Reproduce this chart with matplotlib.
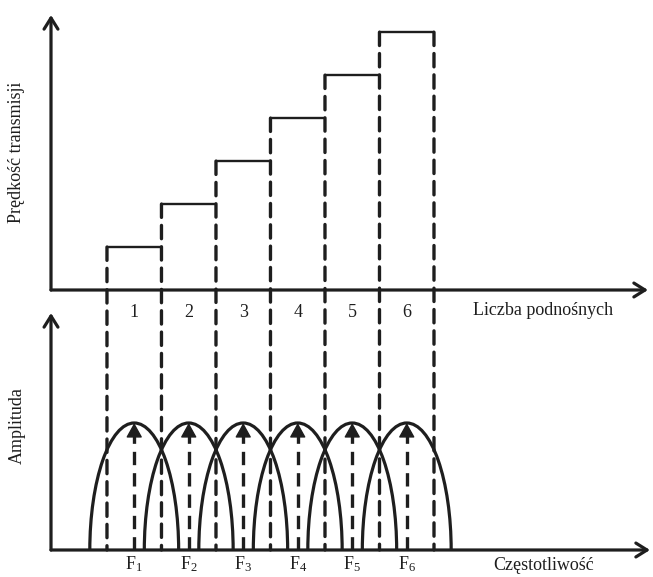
import matplotlib.pyplot as plt
from matplotlib.patches import Arc, ConnectionPatch

plt.rcParams['font.family'] = 'Liberation Serif'
plt.rcParams['mathtext.default'] = 'regular'

# data
subcarriers = [1, 2, 3, 4, 5, 6]
rates = [1, 2, 3, 4, 5, 6]
amplitudes = [1, 1, 1, 1, 1, 1]
sub_labels = ['1', '2', '3', '4', '5', '6']
freq_labels = ['F$_1$', 'F$_2$', 'F$_3$', 'F$_4$', 'F$_5$', 'F$_6$']
arc_width = 1.63  # spectral width of one subcarrier, in subcarrier spacings

ink = '#1e1e1e'
dash = (0, (4, 2.4))

W, H = 653, 577
fig = plt.figure(figsize=(W / 100, H / 100), dpi=100)


def px_axes(l, t, r, b):
    return fig.add_axes([l / W, 1 - b / H, (r - l) / W, (b - t) / H])


ax_top = px_axes(51, 15, 648, 290)
ax_bot = px_axes(51, 313, 650, 550)
ax_top.set_xlim(-0.527, 10.427)
ax_top.set_ylim(0, 6.4)
ax_bot.set_xlim(-0.527, 10.463)
ax_bot.set_ylim(0, 1.866)

for ax in (ax_top, ax_bot):
    ax.axis('off')
    for end in [(1, 0), (0, 1)]:
        ax.annotate('', xy=end, xytext=(0, 0), xycoords='axes fraction',
                    arrowprops=dict(arrowstyle='->,head_length=0.8,head_width=0.5',
                                    lw=2.3, color=ink, shrinkA=0, shrinkB=0))

# top panel: transmission rate steps
lefts = [k - 0.5 for k in subcarriers]
rights = [k + 0.5 for k in subcarriers]
ax_top.hlines(rates, lefts, rights, colors=ink, lw=1.7)
for k, lab in zip(subcarriers, sub_labels):
    ax_top.text(k, -0.53, lab, ha='center', va='center', fontsize=13, color=ink)
ax_top.text(7.22, -0.47, 'Liczba podnośnych', ha='left', va='center', fontsize=13, color=ink)
ax_top.text(-0.057, 0.5, 'Prędkość transmisji', rotation=90, ha='center', va='center',
            fontsize=13, color=ink, transform=ax_top.transAxes)

# dashed boundaries running down to frequency axis
bounds = lefts + [rights[-1]]
tops = rates + [rates[-1]]
for x, h in zip(bounds, tops):
    con = ConnectionPatch(xyA=(x, h), coordsA=ax_top.transData,
                          xyB=(x, 0), coordsB=ax_bot.transData,
                          color=ink, lw=2.4, linestyle=dash)
    fig.add_artist(con)

# bottom panel: subcarrier spectra
for k, a in zip(subcarriers, amplitudes):
    ax_bot.add_patch(Arc((k, 0), arc_width, 2 * a, theta1=0, theta2=180,
                         color=ink, lw=2.3))
    ax_bot.plot([k, k], [0, 0.9 * a], color=ink, lw=2.4, linestyle=dash)
    ax_bot.annotate('', xy=(k, a), xytext=(k, 0.88 * a),
                    arrowprops=dict(arrowstyle='-|>,head_length=0.9,head_width=0.5',
                                    lw=1, color=ink, shrinkA=0, shrinkB=0))
for k, lab in zip(subcarriers, freq_labels):
    ax_bot.text(k, -0.035, lab, ha='center', va='top', fontsize=13, color=ink)
ax_bot.text(7.58, -0.125, 'Częstotliwość', ha='left', va='center', fontsize=13, color=ink)
ax_bot.text(-0.057, 0.527, 'Amplituda', rotation=90, ha='center', va='center',
            fontsize=13, color=ink, transform=ax_bot.transAxes)

fig.savefig('out.png', dpi=100)
